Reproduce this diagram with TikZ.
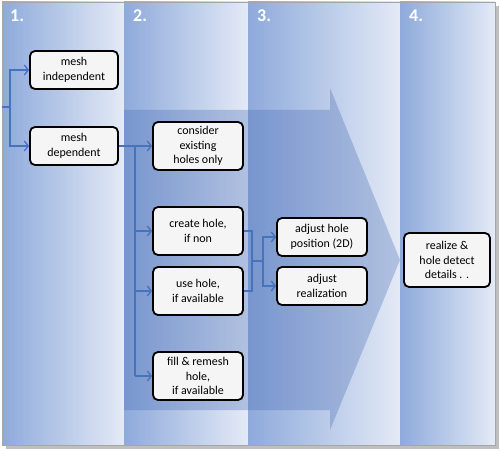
\documentclass[tikz,border=0pt]{standalone}
\usepackage{fontspec}
\setmainfont{Carlito}
\usetikzlibrary{positioning,arrows.meta}
\definecolor{linkblue}{RGB}{70,115,190}
\definecolor{coldark}{RGB}{142,170,219}
\definecolor{collight}{RGB}{228,234,246}
\definecolor{arrowblue}{RGB}{75,110,180}

\begin{document}
\begin{tikzpicture}[x=1bp,y=-1bp, >={Straight Barb[length=4bp,width=10bp]},
    box/.style={draw=black, line width=1.8bp, rounded corners=5bp, fill=white!96!black,
      align=center, inner sep=2bp, font=\fontsize{12}{14.5}\selectfont, minimum width=88bp},
    link/.style={draw=linkblue, line width=1.3bp},
    num/.style={anchor=base west, text=white, inner sep=0pt,
      font=\fontsize{18}{18}\selectfont\bfseries}]

      \useasboundingbox (0,0) rectangle (501,451);

      % Draw frame and columns
      \fill[black!25] (6,6) rectangle (499,449);
      \shade[left color=coldark, right color=collight] (2,2) rectangle (124,445);
      \shade[left color=coldark, right color=collight] (124,2) rectangle (248,445);
      \shade[left color=coldark, right color=collight] (248,2) rectangle (400,445);
      \shade[left color=coldark, right color=collight] (400,2) rectangle (495,445);
      \draw[black!35, line width=0.6bp] (2,2) rectangle (495,445);

      % Big arrow behind the steps
      \fill[arrowblue, opacity=0.33]
      (124,110) --
      (330,110) --
      (330,88) --
      (400,260) --
      (330,430) --
      (330,410) --
      (124,410) -- cycle;

      % Column numbers
      \node[num] (n1) at (10,22) {1.};
      \node[num] (n2) at (133,22) {2.};
      \node[num] (n3) at (257,22) {3.};
      \node[num] (n4) at (409,22) {4.};

      % Boxes
      \node[box, minimum height=38bp] (indep) at (74,70) {mesh\\independent};
      \node[box, minimum height=38bp] (dep) at (74,146) {mesh\\dependent};
      \node[box, minimum width=90bp, minimum height=48bp] (consider) at (198,146) {consider\\existing\\holes only};
      \node[box, minimum width=90bp, minimum height=48bp] (create) at (198,231) {create hole,\\if non};
      \node[box, minimum width=90bp, minimum height=48bp] (use) at (198,291) {use hole,\\if available};
      \node[box, minimum width=90bp, minimum height=48bp] (fill) at (198,376) {fill \& remesh\\hole,\\if available};
      \node[box, minimum width=90bp, minimum height=38bp] (adjpos) at (322,237) {adjust hole\\position (2D)};
      \node[box, minimum width=90bp, minimum height=38bp] (adjreal) at (322,286) {adjust\\realization};
      \node[box, minimum width=86bp, minimum height=54bp] (realize) at (447,260) {realize \&\\hole detect\\details . .};

      % Connectors
      \coordinate (start) at (2,107);
      \coordinate (fork) at (10,107);
      \draw[link] (start) -- (fork);
      \draw[link,->] (fork) |- (indep.west);
      \draw[link,->] (fork) |- (dep.west);

      \coordinate (trunk) at (135,146);
      \draw[link,->] (dep.east) -- (consider.west);
      \draw[link] (trunk) -- (trunk |- fill.west);
      \foreach \n in {create,use,fill}
        \draw[link,->] (trunk |- \n.west) -- (\n.west);

      \coordinate (merge) at (252,261);
      \coordinate (split) at (263,261);
      \draw[link] (create.east) -| (merge);
      \draw[link] (use.east) -| (merge);
      \draw[link] (merge) -- (split);
      \draw[link,->] (split) |- (adjpos.west);
      \draw[link,->] (split) |- (adjreal.west);
    \end{tikzpicture}
\end{document}
